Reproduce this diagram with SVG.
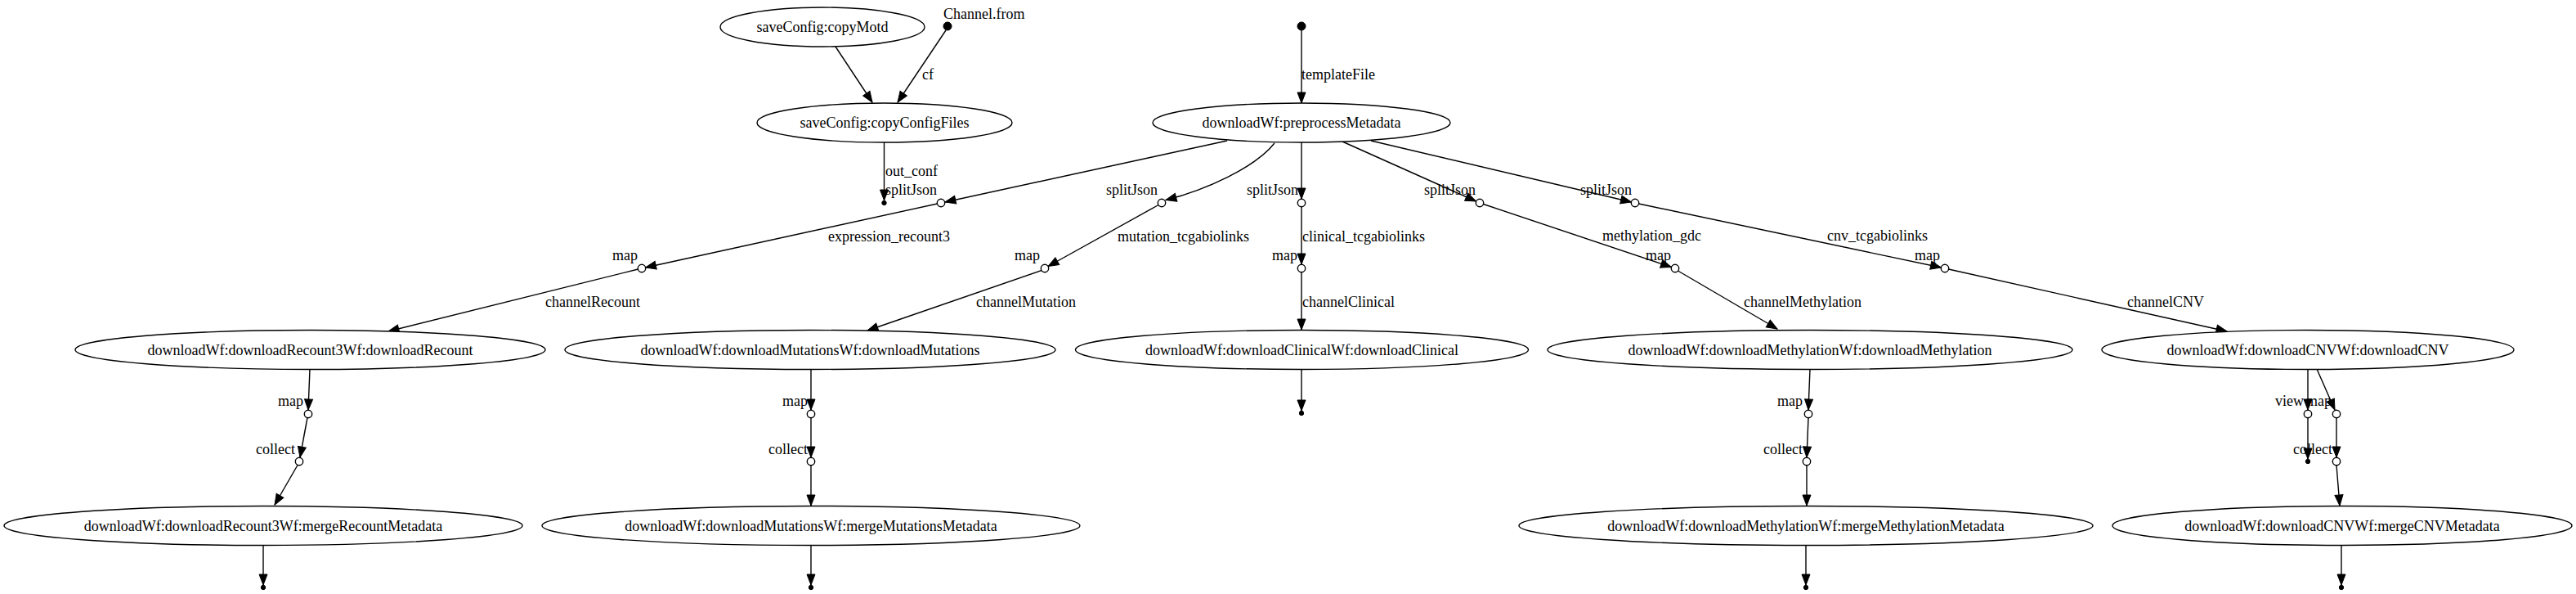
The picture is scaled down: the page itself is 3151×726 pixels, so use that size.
<svg xmlns="http://www.w3.org/2000/svg" width="3151" height="726" viewBox="0 0 3151 726">
<style>
text{font-family:"Liberation Serif","Times New Roman",serif;font-size:18px;fill:#000}
.n{text-anchor:middle}
.xl{text-anchor:end}
.proc{fill:#fff;stroke:#000;stroke-width:1.4}
.op{fill:#fff;stroke:#000;stroke-width:1.4}
.pt{fill:#000;stroke:#000;stroke-width:1}
.e{fill:none;stroke:#000;stroke-width:1.4;marker-end:url(#ah)}
</style>
<defs>
<marker id="ah" markerUnits="userSpaceOnUse" markerWidth="14" markerHeight="10" refX="13" refY="5" orient="auto" overflow="visible">
<path d="M0,0 L13,5 L0,10 Z" fill="#000" stroke="#000" stroke-width="1"/>
</marker>
</defs>
<rect x="0" y="0" width="3151" height="726" fill="#fff"/>

<g id="connectors">
<path class="e" d="M1022,57 L1067,125"/>
<path class="e" d="M1157,37 L1098,125"/>
<path class="e" d="M1081.5,174 L1081.5,245"/>
<path class="e" d="M1592,37 L1592,126"/>
<path class="e" d="M1501,172 L1156,247"/>
<path class="e" d="M1559,175 C1535,205 1475,232 1426,244.5"/>
<path class="e" d="M1592,174 L1592,243"/>
<path class="e" d="M1642,173 L1805.5,246"/>
<path class="e" d="M1677,172 L1995.5,247"/>
<path class="e" d="M1146.5,249 L789.5,327"/>
<path class="e" d="M1417,250.5 L1282,325.5"/>
<path class="e" d="M1592,252.5 L1592,323"/>
<path class="e" d="M1814.5,249.5 L2044.5,326.5"/>
<path class="e" d="M2004.5,249 L2374.5,327"/>
<path class="e" d="M780.5,329 L475,405"/>
<path class="e" d="M1274,330.5 L1061,404"/>
<path class="e" d="M1592,332.5 L1592,403"/>
<path class="e" d="M2052.5,331 L2174,402"/>
<path class="e" d="M2383.5,329 L2724,405"/>
<path class="e" d="M379,451 L377,501"/>
<path class="e" d="M992,451 L992,501"/>
<path class="e" d="M1592,451 L1592,502"/>
<path class="e" d="M2214,451 L2212,501"/>
<path class="e" d="M2823,451 L2823,501"/>
<path class="e" d="M2834,451 L2856,501"/>
<path class="e" d="M376,510.5 L367,559"/>
<path class="e" d="M992,510.5 L992,559"/>
<path class="e" d="M2212,510.5 L2210,559"/>
<path class="e" d="M2823,510.5 L2823,561"/>
<path class="e" d="M2858,510.5 L2858,559"/>
<path class="e" d="M364,568.5 L336,617"/>
<path class="e" d="M992,568.5 L992,618"/>
<path class="e" d="M2210,568.5 L2210,618"/>
<path class="e" d="M2858,568.5 L2862,618"/>
<path class="e" d="M322,666.5 L322,715"/>
<path class="e" d="M992,666.5 L992,715"/>
<path class="e" d="M2209,666.5 L2209,715"/>
<path class="e" d="M2864,666.5 L2864,715"/>
<text x="1128" y="97">cf</text>
<text x="1083" y="215">out_conf</text>
<text x="1592" y="97">templateFile</text>
<text x="1013" y="295">expression_recount3</text>
<text x="1367" y="295">mutation_tcgabiolinks</text>
<text x="1593" y="295">clinical_tcgabiolinks</text>
<text x="1960" y="294">methylation_gdc</text>
<text x="2235" y="294">cnv_tcgabiolinks</text>
<text x="667" y="375">channelRecount</text>
<text x="1194" y="375">channelMutation</text>
<text x="1593" y="375">channelClinical</text>
<text x="2133" y="375">channelMethylation</text>
<text x="2602" y="375">channelCNV</text>
</g>

<g id="copyMotd"><ellipse class="proc" cx="1006" cy="33" rx="125" ry="24"/><text class="n" x="1006" y="39">saveConfig:copyMotd</text></g>
<g id="channelFrom"><circle class="pt" cx="1159" cy="32" r="5"/><text x="1154" y="23">Channel.from</text></g>
<g id="copyConfigFiles"><ellipse class="proc" cx="1082" cy="150" rx="156" ry="24"/><text class="n" x="1082" y="156">saveConfig:copyConfigFiles</text></g>
<g id="outConfEnd"><circle class="pt" cx="1081.5" cy="248" r="2.7"/></g>
<g id="templateStart"><circle class="pt" cx="1592" cy="32" r="5"/></g>
<g id="preprocessMetadata"><ellipse class="proc" cx="1592" cy="150" rx="182" ry="24"/><text class="n" x="1592" y="156">downloadWf:preprocessMetadata</text></g>

<g id="splitJson1"><circle class="op" cx="1151" cy="248" r="4.7"/><text class="xl" x="1146" y="238">splitJson</text></g>
<g id="splitJson2"><circle class="op" cx="1421" cy="248" r="4.7"/><text class="xl" x="1416" y="238">splitJson</text></g>
<g id="splitJson3"><circle class="op" cx="1592" cy="248" r="4.7"/><text class="xl" x="1588" y="238">splitJson</text></g>
<g id="splitJson4"><circle class="op" cx="1810" cy="248" r="4.7"/><text class="xl" x="1805" y="238">splitJson</text></g>
<g id="splitJson5"><circle class="op" cx="2000" cy="248" r="4.7"/><text class="xl" x="1996" y="238">splitJson</text></g>

<g id="map1"><circle class="op" cx="785" cy="328" r="4.7"/><text class="xl" x="780" y="318">map</text></g>
<g id="map2"><circle class="op" cx="1278" cy="328" r="4.7"/><text class="xl" x="1272" y="318">map</text></g>
<g id="map3"><circle class="op" cx="1592" cy="328" r="4.7"/><text class="xl" x="1587" y="318">map</text></g>
<g id="map4"><circle class="op" cx="2049" cy="328" r="4.7"/><text class="xl" x="2044" y="318">map</text></g>
<g id="map5"><circle class="op" cx="2379" cy="328" r="4.7"/><text class="xl" x="2373" y="318">map</text></g>

<g id="downloadRecount"><ellipse class="proc" cx="379.5" cy="427.5" rx="287.5" ry="24"/><text class="n" x="379.5" y="433.5">downloadWf:downloadRecount3Wf:downloadRecount</text></g>
<g id="downloadMutations"><ellipse class="proc" cx="991" cy="427.5" rx="300" ry="24"/><text class="n" x="991" y="433.5">downloadWf:downloadMutationsWf:downloadMutations</text></g>
<g id="downloadClinical"><ellipse class="proc" cx="1592.5" cy="427.5" rx="277" ry="24"/><text class="n" x="1592.5" y="433.5">downloadWf:downloadClinicalWf:downloadClinical</text></g>
<g id="downloadMethylation"><ellipse class="proc" cx="2214" cy="427.5" rx="321" ry="24"/><text class="n" x="2214" y="433.5">downloadWf:downloadMethylationWf:downloadMethylation</text></g>
<g id="downloadCNV"><ellipse class="proc" cx="2823" cy="427.5" rx="252" ry="24"/><text class="n" x="2823" y="433.5">downloadWf:downloadCNVWf:downloadCNV</text></g>

<g id="clinicalEnd"><circle class="pt" cx="1592" cy="505" r="2.7"/></g>
<g id="mapA"><circle class="op" cx="377" cy="506" r="4.7"/><text class="xl" x="371" y="496">map</text></g>
<g id="mapB"><circle class="op" cx="992" cy="506" r="4.7"/><text class="xl" x="988" y="496">map</text></g>
<g id="mapC"><circle class="op" cx="2212" cy="506" r="4.7"/><text class="xl" x="2205" y="496">map</text></g>
<g id="viewD"><circle class="op" cx="2823" cy="506" r="4.7"/><text class="xl" x="2818" y="496">view</text></g>
<g id="mapD"><circle class="op" cx="2858" cy="506" r="4.7"/><text class="xl" x="2852" y="496">map</text></g>

<g id="collectA"><circle class="op" cx="366" cy="564" r="4.7"/><text class="xl" x="361" y="555">collect</text></g>
<g id="collectB"><circle class="op" cx="992" cy="564" r="4.7"/><text class="xl" x="988" y="555">collect</text></g>
<g id="collectC"><circle class="op" cx="2210" cy="564" r="4.7"/><text class="xl" x="2205" y="555">collect</text></g>
<g id="viewEnd"><circle class="pt" cx="2823" cy="564" r="2.7"/></g>
<g id="collectD"><circle class="op" cx="2858" cy="564" r="4.7"/><text class="xl" x="2853" y="555">collect</text></g>

<g id="mergeRecount"><ellipse class="proc" cx="322" cy="642.5" rx="317" ry="24"/><text class="n" x="322" y="648.5">downloadWf:downloadRecount3Wf:mergeRecountMetadata</text></g>
<g id="mergeMutations"><ellipse class="proc" cx="992" cy="642.5" rx="329" ry="24"/><text class="n" x="992" y="648.5">downloadWf:downloadMutationsWf:mergeMutationsMetadata</text></g>
<g id="mergeMethylation"><ellipse class="proc" cx="2209" cy="642.5" rx="351" ry="24"/><text class="n" x="2209" y="648.5">downloadWf:downloadMethylationWf:mergeMethylationMetadata</text></g>
<g id="mergeCNV"><ellipse class="proc" cx="2865" cy="642.5" rx="281" ry="24"/><text class="n" x="2865" y="648.5">downloadWf:downloadCNVWf:mergeCNVMetadata</text></g>

<g id="end1"><circle class="pt" cx="322" cy="718" r="2.7"/></g>
<g id="end2"><circle class="pt" cx="992" cy="718" r="2.7"/></g>
<g id="end3"><circle class="pt" cx="2209" cy="718" r="2.7"/></g>
<g id="end4"><circle class="pt" cx="2864" cy="718" r="2.7"/></g>
</svg>
